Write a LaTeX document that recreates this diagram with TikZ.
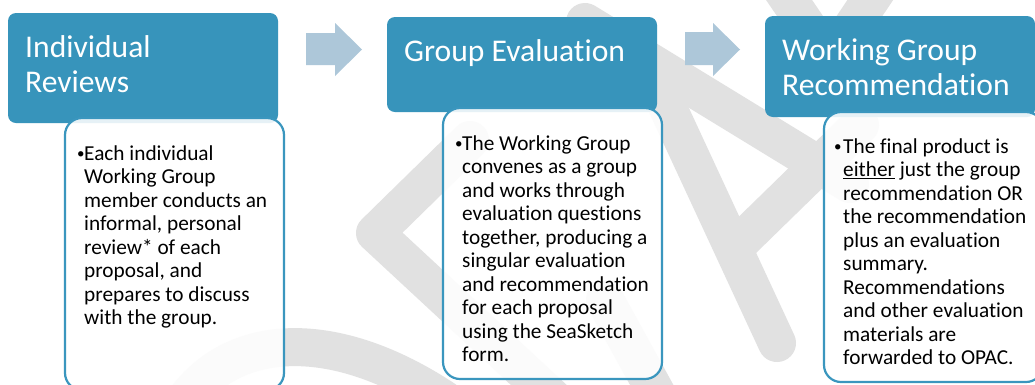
\documentclass[tikz,border=0pt]{standalone}
\usepackage{fontspec}
\setmainfont{Carlito}[Ligatures=NoCommon]
\definecolor{headblue}{RGB}{55, 148, 187}
\definecolor{edgeblue}{RGB}{58, 150, 190}
\definecolor{arrowblue}{RGB}{173, 199, 217}
\definecolor{markgrey}{RGB}{225, 225, 225}
\usetikzlibrary{positioning, calc}
\newcommand{\dotmark}{\makebox[7pt][l]{\raisebox{1.5pt}{\fontsize{15}{15}\selectfont\textbullet}}}

\begin{document}
\begin{tikzpicture}[x=1pt, y=-1pt,
  header/.style={fill=headblue, rounded corners=8pt, anchor=north west, inner sep=0pt, outer sep=0pt, minimum width=270pt},
  body/.style={draw=edgeblue, line width=2.2pt, fill=white, fill opacity=0.88, rounded corners=17pt, anchor=north west, inner sep=0pt, outer sep=0pt, minimum width=219pt},
  headtext/.style={anchor=base west, inner sep=0pt, text=white, font=\fontsize{31.6}{35}\selectfont},
  bodytext/.style={anchor=base west, inner sep=0pt, font=\fontsize{21.3}{23.5}\selectfont},
  flowarrow/.style={fill=arrowblue},
  wmark/.style={draw=markgrey, line width=38pt, line cap=round, line join=round}
]
  \useasboundingbox (0,0) rectangle (1035,384);
  \clip (0,0) rectangle (1035,384);
  \fill[white] (0,0) rectangle (1035,384);

  % faint watermark behind the diagram
  \draw[wmark] (185,400) .. controls (235,332) and (335,327) .. (445,400);
  \draw[wmark] (470,140) -- (375,233) -- (555,400);
  \draw[wmark] (585,22) -- (850,184);
  \draw[wmark] (860,125) -- (737,245);
  \draw[wmark] (655,80) -- (777,343);
  \draw[wmark] (772,-25) -- (830,60) -- (887,-25);
  \draw[wmark] (605,300) -- (660,400);

  \node[header, minimum height=110pt] (hdrA) at (8,13) {};
  \node[header, minimum height=95pt] (hdrB) at (387,17) {};
  \node[header, minimum height=101pt] (hdrC) at (765,16) {};

  \fill[flowarrow] (306,33) -- (335,33) -- (335,23) -- (362,49.5) -- (335,76) -- (335,65) -- (306,65) -- cycle;
  \fill[flowarrow] (685,32) -- (713,32) -- (713,23) -- (740,49.5) -- (713,76) -- (713,65) -- (685,65) -- cycle;

  \node[body, minimum height=272pt] (bodyA) at (65,118) {};
  \node[body, minimum height=271pt] (bodyB) at (443,108) {};
  \node[body, minimum height=270pt] (bodyC) at (824,112) {};

  \node[headtext] (lblA) at ([shift={(17pt,-44pt)}]hdrA.north west) {\parbox[t]{250pt}{Individual\\Reviews}};
  \node[headtext] (lblB) at ([shift={(17pt,-44pt)}]hdrB.north west) {\parbox[t]{250pt}{Group Evaluation}};
  \node[headtext] (lblC) at ([shift={(17pt,-44pt)}]hdrC.north west) {\parbox[t]{250pt}{Working Group\\Recommendation}};

  \node[bodytext] (txtA) at ([shift={(12pt,-42pt)}]bodyA.north west) {\parbox[t]{210pt}{\hangindent=7pt\hangafter=1\dotmark Each individual\\Working Group\\member conducts an\\informal, personal\\review* of each\\proposal, and\\prepares to discuss\\with the group.}};
  \node[bodytext] (txtB) at ([shift={(12pt,-42pt)}]bodyB.north west) {\parbox[t]{210pt}{\hangindent=7pt\hangafter=1\dotmark The Working Group\\convenes as a group\\and works through\\evaluation questions\\together, producing a\\singular evaluation\\and recommendation\\for each proposal\\using the SeaSketch\\form.}};
  \node[bodytext] (txtC) at ([shift={(10pt,-41pt)}]bodyC.north west) {\parbox[t]{210pt}{\hangindent=9pt\hangafter=1\makebox[9pt][l]{\raisebox{1.5pt}{\fontsize{15}{15}\selectfont\textbullet}}The final product is\\\underline{either} just the group\\recommendation OR\\the recommendation\\plus an evaluation\\summary.\\Recommendations\\and other evaluation\\materials are\\forwarded to OPAC.}};
\end{tikzpicture}
\end{document}
